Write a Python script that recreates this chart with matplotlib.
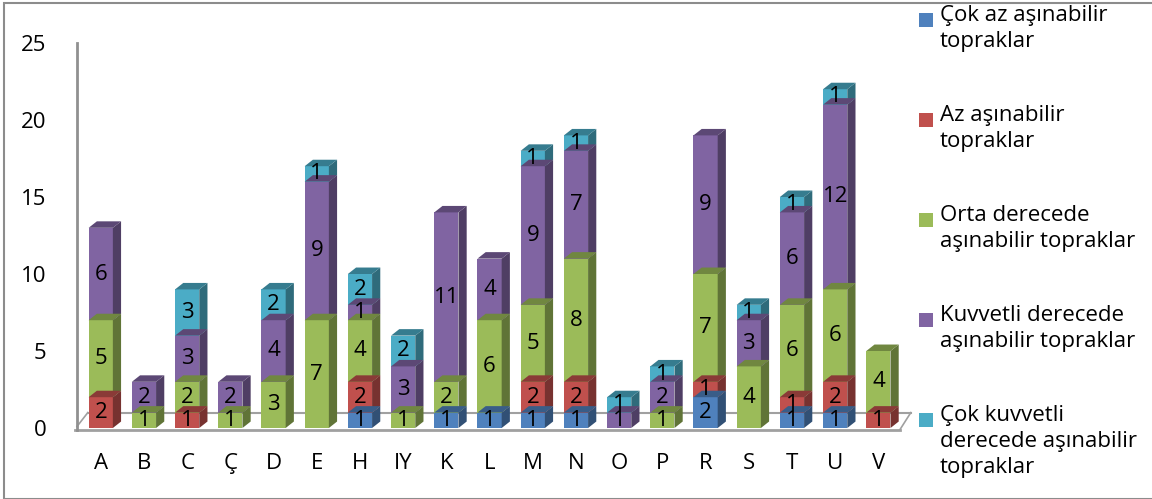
import numpy as np
import matplotlib.pyplot as plt
from matplotlib.patches import Polygon, Rectangle
from matplotlib.colors import to_rgb

plt.rcParams['font.family'] = ['Open Sans', 'DejaVu Sans']

# categories and series
kategoriler = ['A', 'B', 'C', 'Ç', 'D', 'E', 'H', 'IY', 'K', 'L', 'M', 'N', 'O', 'P', 'R', 'S', 'T', 'U', 'V']
cok_az = [0, 0, 0, 0, 0, 0, 1, 0, 1, 1, 1, 1, 0, 0, 2, 0, 1, 1, 0]
az = [2, 0, 1, 0, 0, 0, 2, 0, 0, 0, 2, 2, 0, 0, 1, 0, 1, 2, 1]
orta = [5, 1, 2, 1, 3, 7, 4, 1, 2, 6, 5, 8, 0, 1, 7, 4, 6, 6, 4]
kuvvetli = [6, 2, 3, 2, 4, 9, 1, 3, 11, 4, 9, 7, 1, 2, 9, 3, 6, 12, 0]
cok_kuvvetli = [0, 0, 3, 0, 2, 1, 2, 2, 0, 0, 1, 1, 1, 1, 0, 1, 1, 1, 0]

seriler = [cok_az, az, orta, kuvvetli, cok_kuvvetli]
etiketler = ['Çok az aşınabilir\ntopraklar',
             'Az aşınabilir\ntopraklar',
             'Orta derecede\naşınabilir topraklar',
             'Kuvvetli derecede\naşınabilir topraklar',
             'Çok kuvvetli\nderecede aşınabilir\ntopraklar']
renkler = ['#4F81BD', '#C0504D', '#9BBB59', '#8064A2', '#4BACC6']


def koyu(c, f):
    r, g, b = to_rgb(c)
    return (r * f, g * f, b * f)


fig = plt.figure(figsize=(11.52, 4.99), dpi=100)
ax = fig.add_axes([77 / 1152, 71 / 499, 823 / 1152, 385 / 499])

x = np.arange(len(kategoriler))
w = 0.56
dx = 0.19   # depth in x (data units)
dy = 0.42   # depth in y (data units)

# floor lines
ax.plot([-0.6, 18.5], [-0.1, -0.1], color='#A0A0A0', lw=2, zorder=1, clip_on=False)
ax.plot([-0.3, 18.75], [1.0, 1.0], color='#A0A0A0', lw=1.5, zorder=1, clip_on=False)
ax.plot([-0.55, -0.3], [0.1, 1.0], color='#A0A0A0', lw=1.2, zorder=1, clip_on=False)
ax.plot([18.5, 18.75], [-0.1, 1.0], color='#A0A0A0', lw=1.2, zorder=1, clip_on=False)

alt = np.zeros(len(kategoriler))
for s, renk in zip(seriler, renkler):
    s = np.array(s, dtype=float)
    for i in range(len(x)):
        if s[i] <= 0:
            continue
        x0 = x[i] - w / 2
        x1 = x[i] + w / 2
        y0 = alt[i]
        y1 = alt[i] + s[i]
        ax.add_patch(Rectangle((x0, y0), w, s[i], facecolor=renk, edgecolor='none', zorder=3))
        ax.add_patch(Polygon([(x1, y0), (x1 + dx, y0 + dy), (x1 + dx, y1 + dy), (x1, y1)],
                             closed=True, facecolor=koyu(renk, 0.62), edgecolor='none', zorder=3))
        ax.add_patch(Polygon([(x0, y1), (x0 + dx, y1 + dy), (x1 + dx, y1 + dy), (x1, y1)],
                             closed=True, facecolor=koyu(renk, 0.72), edgecolor='none', zorder=4))
        ax.text(x[i], y0 + s[i] / 2, '%d' % s[i], ha='center', va='center',
                fontsize=16, color='black', zorder=5)
    alt = alt + s

ax.set_xlim(-0.55, 18.5)
ax.set_ylim(0, 25)
ax.set_yticks([0, 5, 10, 15, 20, 25])
ax.set_xticks(x)
ax.set_xticklabels(kategoriler)
ax.tick_params(axis='both', length=0, labelsize=16)
ax.tick_params(axis='x', pad=18)
ax.tick_params(axis='y', pad=22)
for k in ['top', 'right', 'bottom']:
    ax.spines[k].set_visible(False)
ax.spines['left'].set_color('#909090')
ax.spines['left'].set_linewidth(2)
ax.spines['left'].set_bounds(-0.1, 25)

# legend drawn by hand
for j, (lab, renk) in enumerate(zip(etiketler, renkler)):
    ytop = 1 - (5 + j * 100) / 499
    fig.patches.append(Rectangle((919 / 1152, ytop - 22 / 499), 14 / 1152, 14 / 499,
                                 transform=fig.transFigure, facecolor=renk, edgecolor='none'))
    fig.text(940 / 1152, ytop, lab, ha='left', va='top', fontsize=16, linespacing=1.3)

fig.patches.append(Rectangle((4 / 1152, 0.0), 1.0, 1 - 3 / 499, transform=fig.transFigure,
                             fill=False, edgecolor='#8C8C8C', lw=1.5))

fig.savefig('out.png', dpi=100)
